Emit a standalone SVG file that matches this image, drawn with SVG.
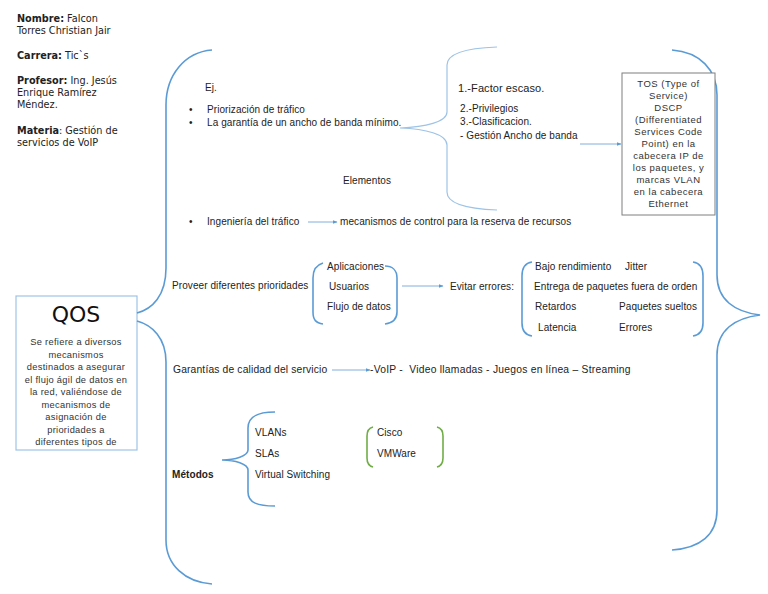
<svg xmlns="http://www.w3.org/2000/svg" width="768" height="594" viewBox="0 0 768 594">
<style>
.h{font-family:"DejaVu Sans",Verdana,sans-serif;font-size:9.7px;fill:#222}
.hb{font-weight:bold}
.t{font-family:"Liberation Sans",Arial,sans-serif;font-size:10px;fill:#222;letter-spacing:0.08px}
.s{font-family:"Liberation Sans",Arial,sans-serif;font-size:9.5px;fill:#333;letter-spacing:0.5px}
.br{fill:none;stroke:#5b9bd5;stroke-width:1.6}
.thin{fill:none;stroke:#9dc3e6;stroke-width:1.2}
.gr{fill:none;stroke:#70ad47;stroke-width:1.6}
.ar{fill:none;stroke:#7fb0dd;stroke-width:1}
</style>
<defs>
<marker id="ah" viewBox="0 0 10 10" refX="9" refY="5" markerWidth="5" markerHeight="5" orient="auto">
<path d="M0,1 L10,5 L0,9 z" fill="#5b9bd5"/>
</marker>
</defs>
<rect width="768" height="594" fill="#fff"/>

<g id="info">
<text class="h" x="17" y="22"><tspan class="hb">Nombre:</tspan> Falcon</text>
<text class="h" x="17" y="34">Torres Christian Jair</text>
<text class="h" x="17" y="59"><tspan class="hb">Carrera:</tspan> Tic`s</text>
<text class="h" x="17" y="84"><tspan class="hb">Profesor:</tspan> Ing. Jesús</text>
<text class="h" x="17" y="96">Enrique Ramírez</text>
<text class="h" x="17" y="108">Méndez.</text>
<text class="h" x="17" y="134"><tspan class="hb">Materia</tspan>: Gestión de</text>
<text class="h" x="17" y="146">servicios de VoIP</text>
</g>

<g id="qos">
<rect x="16" y="296" width="121" height="154" fill="#fff" stroke="#9dc3e6" stroke-width="1.2"/>
<text x="76" y="322" text-anchor="middle" font-family="DejaVu Sans,sans-serif" font-size="22" fill="#111">QOS</text>
<g class="s" text-anchor="middle" style="font-size:9.3px;letter-spacing:0.3px">
<text x="76" y="345">Se refiere a diversos</text>
<text x="76" y="357.5">mecanismos</text>
<text x="76" y="370">destinados a asegurar</text>
<text x="76" y="382.5">el flujo ágil de datos en</text>
<text x="76" y="395">la red, valiéndose de</text>
<text x="76" y="407.5">mecanismos de</text>
<text x="76" y="420">asignación de</text>
<text x="76" y="432.5">prioridades a</text>
<text x="76" y="445">diferentes tipos de</text>
</g>
</g>

<g id="braces">
<path class="br" d="M212,50 C185,52 166,75 166,105 L166,268 C166,296 152,309 137,313"/>
<path class="br" d="M137,321 C152,325 166,338 166,362 L166,540 C166,565 185,582 212,584"/>
<path class="br" d="M672,50 C700,52 717,70 717,95 L717,275 C717,300 735,312 760,315 C735,318 717,330 717,355 L717,510 C717,535 700,548 672,550"/>
<path class="thin" d="M497,47 C470,48 447,52 447,65 L447,112 C447,122 425,127 400,128 C425,129 447,134 447,145 L447,192 C447,205 470,209 497,210"/>
<path class="br" d="M275,412 C258,412 248,416 248,428 L248,450 C248,456 235,460 222,460 C235,460 248,464 248,470 L248,492 C248,503 258,506 275,506"/>
<path class="br" d="M323,263 C316,265 313,270 313,278 L313,312 C313,320 316,323 323,324"/>
<path class="br" d="M385,266 C392,266 397,270 397,278 L397,312 C397,320 392,323 385,324"/>
<path class="br" d="M532,262 C525,263 522,268 522,276 L522,323 C522,331 525,335 532,336"/>
<path class="br" d="M693,262 C700,263 703,268 703,276 L703,323 C703,331 700,335 693,336"/>
<path class="gr" d="M373,427 C369,428 367,431 367,436 L367,458 C367,463 369,466 373,467"/>
<path class="gr" d="M437,427 C441,428 443,431 443,436 L443,458 C443,463 441,466 437,467"/>
</g>

<g id="connectors">
<line class="ar" x1="580" y1="144" x2="621" y2="144" marker-end="url(#ah)"/>
<line class="ar" x1="308" y1="222" x2="337" y2="222" marker-end="url(#ah)"/>
<line class="ar" x1="402" y1="286" x2="443" y2="286" marker-end="url(#ah)"/>
<line class="ar" x1="332" y1="370" x2="370" y2="370" marker-end="url(#ah)"/>
</g>

<g id="ejemplos">
<text class="t" x="205" y="91">Ej.</text>
<text class="t" x="189" y="113">•</text>
<text class="t" x="207" y="113">Priorización de tráfico</text>
<text class="t" x="189" y="126">•</text>
<text class="t" x="207" y="126">La garantía de un ancho de banda mínimo.</text>
<text class="t" x="343" y="184">Elementos</text>
<text class="t" x="189" y="225">•</text>
<text class="t" x="207" y="225">Ingeniería del tráfico</text>
<text class="t" x="340" y="225">mecanismos de control para la reserva de recursos</text>
</g>

<g id="factores">
<text class="t" x="458" y="92" style="font-size:11px">1.-Factor escaso.</text>
<text class="t" x="460" y="112">2.-Privilegios</text>
<text class="t" x="460" y="125">3.-Clasificacion.</text>
<text class="t" x="460" y="139">- Gestión Ancho de banda</text>
</g>

<g id="tos">
<rect x="622" y="73" width="93" height="142" fill="#fff" stroke="#7f7f7f" stroke-width="1"/>
<g class="s" text-anchor="middle">
<text x="668.5" y="87">TOS (Type of</text>
<text x="668.5" y="99">Service)</text>
<text x="668.5" y="111">DSCP</text>
<text x="668.5" y="123">(Differentiated</text>
<text x="668.5" y="135">Services Code</text>
<text x="668.5" y="147">Point) en la</text>
<text x="668.5" y="159">cabecera IP de</text>
<text x="668.5" y="171">los paquetes, y</text>
<text x="668.5" y="183">marcas VLAN</text>
<text x="668.5" y="195">en la cabecera</text>
<text x="668.5" y="207">Ethernet</text>
</g>
</g>

<g id="prioridades">
<text class="t" x="172" y="289">Proveer diferentes prioridades</text>
<text class="t" x="327" y="270">Aplicaciones</text>
<text class="t" x="329" y="290">Usuarios</text>
<text class="t" x="327" y="310">Flujo de datos</text>
<text class="t" x="450" y="290">Evitar errores:</text>
</g>

<g id="errores">
<text class="t" x="535" y="270">Bajo rendimiento</text>
<text class="t" x="625" y="270">Jitter</text>
<text class="t" x="534" y="290">Entrega de paquetes fuera de orden</text>
<text class="t" x="535" y="310">Retardos</text>
<text class="t" x="619" y="310">Paquetes sueltos</text>
<text class="t" x="538" y="331">Latencia</text>
<text class="t" x="619" y="331">Errores</text>
</g>

<g id="garantias">
<text class="t" x="173" y="373" style="font-size:10.3px;letter-spacing:0.15px">Garantías de calidad del servicio</text>
<text class="t" x="370" y="373" style="font-size:10.3px;letter-spacing:0.25px;white-space:pre" xml:space="preserve">-VoIP -  Video llamadas - Juegos en línea – Streaming</text>
</g>

<g id="metodos">
<text class="t" x="172" y="478" font-weight="bold">Métodos</text>
<text class="t" x="255" y="436">VLANs</text>
<text class="t" x="255" y="457">SLAs</text>
<text class="t" x="255" y="478">Virtual Switching</text>
<text class="t" x="377" y="436">Cisco</text>
<text class="t" x="377" y="457">VMWare</text>
</g>
</svg>
